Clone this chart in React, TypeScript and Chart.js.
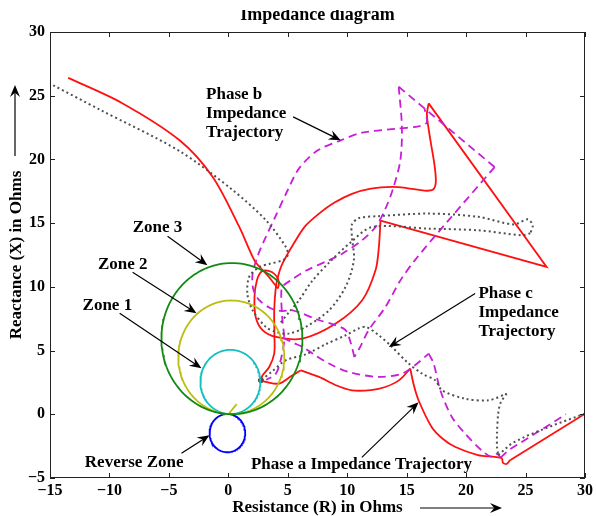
import React, { useEffect, useRef } from "react";
import { Chart, registerables } from "chart.js";
Chart.register(...registerables);

type P = [number, number];

const X_MIN = -15, X_MAX = 30, Y_MIN = -5, Y_MAX = 30;
const xTicks = [-15, -10, -5, 0, 5, 10, 15, 20, 25, 30];
const yTicks = [-5, 0, 5, 10, 15, 20, 25, 30];

// Relay zones (mho circles): centre R, centre X, radius
const zoneNames = ["Zone 3", "Zone 2", "Zone 1", "Reverse Zone"];
const zoneCentreR = [0.3, 0.25, 0.17, -0.08];
const zoneCentreX = [5.94, 4.47, 2.54, -1.48];
const zoneRadius = [5.93, 4.46, 2.52, 1.5];
const zoneColors = ["#108a10", "#bdbd10", "#10c0c0", "#0000ff"];
const zoneStub: P[] = [[0, 0], [0.7, 0.8]];

// Phase a (red, solid)
const phaseA1: P[] = [[-13.47, 26.4], [-9.0, 24.45], [-4.1, 21.5], [-1.3, 18.6], [0.92, 14.7], [2.18, 12.1], [2.74, 11.46], [3.3, 10.9], [3.9, 10.2], [4.15, 9.9], [4.25, 10.4], [3.95, 10.95], [3.4, 11.25], [2.8, 11.2], [2.4, 10.5], [2.2, 9.2], [2.3, 7.64], [2.88, 6.6], [4.0, 6.07], [6.23, 5.94], [9.0, 7.1], [11.26, 8.95], [12.38, 11.3], [12.66, 13.1], [12.8, 15.2]];
const phaseA2: P[] = [[12.8, 15.2], [26.77, 11.56], [16.85, 24.4]];
const phaseA3: P[] = [[16.85, 24.4], [16.7, 23.5], [17.0, 21.5], [17.35, 19.5], [17.45, 18.2], [17.2, 17.62], [16.5, 17.55], [15.0, 17.75], [13.77, 17.84], [12.0, 17.7], [10.4, 17.3], [8.9, 16.6], [7.63, 15.75], [6.5, 14.8], [5.67, 13.66], [4.55, 11.83], [4.2, 10.9], [4.0, 10.0], [3.86, 8.16], [3.88, 6.07], [3.86, 4.76], [3.44, 3.71], [2.88, 3.06], [2.74, 2.67]];
const phaseA4: P[] = [[2.74, 2.67], [3.16, 2.54], [4.27, 2.41], [5.3, 3.0], [6.09, 3.45]];
const phaseA5: P[] = [[6.09, 3.45], [7.63, 2.93], [9.0, 2.3], [10.4, 1.88], [12.0, 1.9], [13.2, 2.14], [14.4, 2.7], [15.3, 3.59]];
const phaseA6: P[] = [[15.3, 3.59], [15.6, 2.3], [16.0, 1.1], [17.1, -1.0], [18.0, -1.9], [19.1, -2.57], [21.0, -3.2], [22.4, -3.35], [23.0, -3.45], [23.1, -3.8], [23.4, -3.9], [23.7, -3.6]];
const phaseA7: P[] = [[23.7, -3.6], [30, 0.05]];

// Phase b (magenta, dashed)
const phaseB1: P[] = [[14.33, 25.7], [14.6, 22.55], [14.47, 19.94], [13.9, 17.84], [13.2, 16.1], [12.38, 14.7], [11.26, 13.66], [9.58, 12.6], [8.47, 12.1], [6.6, 11.3], [5.4, 10.6], [4.55, 10.0], [4.45, 9.2], [4.55, 7.4], [4.7, 5.8], [4.4, 4.24], [4.0, 3.19], [3.2, 2.7]];
const phaseB2: P[] = [[14.33, 25.7], [22.4, 19.4]];
const phaseB3: P[] = [[22.4, 19.4], [18.5, 15.2], [15.7, 12.1], [14.47, 10.5], [13.2, 8.4], [11.8, 6.6], [11.1, 5.3], [10.6, 4.5]];
const phaseB4: P[] = [[10.6, 4.5], [10.3, 5.6], [9.86, 6.6], [9.0, 7.0], [7.6, 7.4], [5.4, 8.16], [4.5, 8.1], [3.6, 8.3], [2.6, 8.95], [2.1, 9.8], [2.04, 11.04], [2.5, 12.5], [3.0, 13.6], [4.0, 15.6], [5.0, 17.6], [5.95, 19.3], [7.5, 20.7], [9.45, 21.5], [11.26, 22.1], [14.06, 22.4], [16.0, 22.6], [16.7, 22.9], [16.5, 24.0]];
const phaseB5: P[] = [[4.6, 6.0], [5.5, 5.6], [6.4, 5.2], [7.35, 4.6], [8.47, 3.98], [10.1, 3.32], [12.66, 2.93], [14.6, 3.19], [15.7, 3.85], [16.85, 4.76]];
const phaseB6: P[] = [[16.85, 4.76], [17.27, 3.98], [17.83, 1.88], [18.8, -0.21], [19.9, -1.5], [21.3, -2.83], [22.15, -3.35], [22.6, -3.1], [22.9, -3.4]];
const phaseB7: P[] = [[22.9, -3.4], [23.55, -2.83], [28.4, 0.0]];

// Phase c (grey, dotted)
const phaseC1: P[] = [[-14.73, 25.82], [-10.8, 23.9], [-4.1, 20.65], [0.36, 17.6], [3.16, 15.23], [4.84, 13.13], [5.0, 12.5], [4.6, 12.1], [3.44, 11.8], [2.6, 11.56], [1.76, 10.8], [1.6, 9.47], [2.04, 8.16], [3.16, 6.85], [4.0, 6.46], [5.1, 6.33], [6.5, 6.85], [8.47, 8.16], [9.86, 10.0], [10.56, 12.1], [10.4, 13.9], [10.4, 14.9], [11.0, 15.4], [12.66, 15.55], [16.85, 15.75], [21.0, 15.5], [24.0, 14.9], [25.2, 15.3], [25.6, 14.8], [25.4, 14.2]];
const phaseC2: P[] = [[25.4, 14.2], [24.7, 14.05], [21.0, 14.44], [16.85, 14.57], [12.1, 14.7], [10.3, 13.5], [8.47, 11.9], [7.0, 10.4], [5.95, 8.95], [5.1, 8.0], [4.4, 7.2]];
const phaseC3: P[] = [[2.8, 2.7], [3.6, 3.3], [4.84, 4.24], [6.5, 4.7], [8.2, 5.5], [9.86, 6.2], [11.0, 6.75], [11.6, 6.85], [12.66, 6.2], [13.64, 5.4], [15.17, 3.98], [16.3, 3.19], [17.4, 2.67], [17.97, 1.88], [19.9, 1.23], [21.9, 1.1], [23.4, 1.62]];
const phaseC4: P[] = [[23.4, 1.62], [22.9, 0.9], [22.7, 0.05], [22.6, -1.5], [22.6, -2.57], [22.7, -3.2]];
const phaseC5: P[] = [[22.7, -3.2], [23.8, -2.3], [25.2, -1.65], [27.5, -0.8], [30, 0.05]];
const junction: P[] = [[2.74, 2.67]];

// Annotations (text left-aligned, baseline at given point)
const labelTexts = ["Zone 3", "Zone 2", "Zone 1", "Reverse Zone", "Phase b", "Impedance", "Trajectory", "Phase c", "Impedance", "Trajectory", "Phase a Impedance Trajectory"];
const labelR = [-8.05, -10.96, -12.26, -12.07, -1.87, -1.87, -1.87, 21.04, 21.04, 21.04, 1.9];
const labelX = [14.29, 11.44, 8.16, -4.13, 24.73, 23.23, 21.74, 9.11, 7.61, 6.12, -4.32];
const arrowTailR = [-5.11, -8.05, -9.14, -3.94, 5.45, 20.76, 11.23];
const arrowTailX = [13.97, 11.15, 7.93, -3.06, 23.34, 9.47, -3.38];
const arrowHeadR = [-1.76, -2.68, -2.26, -1.59, 9.45, 13.5, 16.0];
const arrowHeadX = [11.7, 7.93, 3.61, -1.65, 21.5, 5.28, 0.94];

const TITLE = "Impedance diagram";
const X_TITLE = "Resistance (R) in Ohms";
const Y_TITLE = "Reactance (X) in Ohms";
const SERIF = "'Liberation Serif', 'Times New Roman', serif";

const toXY = (pts: P[]) => pts.map(([x, y]) => ({ x, y }));
const circle = (cr: number, cx: number, r: number) =>
  Array.from({ length: 145 }, (_, i) => {
    const t = (i / 144) * 2 * Math.PI;
    return { x: cr + r * Math.cos(t), y: cx + r * Math.sin(t) };
  });

const RED = "#ff1010";
const MAG = "#c81ed8";
const GREY = "#505050";

function ds(pts: P[], color: string, extra: any = {}) {
  return {
    data: toXY(pts),
    borderColor: color,
    backgroundColor: color,
    showLine: true,
    pointRadius: 0,
    borderWidth: 1.8,
    fill: false,
    ...extra,
  };
}

function drawArrow(ctx: CanvasRenderingContext2D, x1: number, y1: number, x2: number, y2: number, L = 12, W = 5) {
  const ang = Math.atan2(y2 - y1, x2 - x1);
  ctx.beginPath();
  ctx.moveTo(x1, y1);
  ctx.lineTo(x2 - Math.cos(ang) * L * 0.6, y2 - Math.sin(ang) * L * 0.6);
  ctx.stroke();
  ctx.save();
  ctx.translate(x2, y2);
  ctx.rotate(ang);
  ctx.beginPath();
  ctx.moveTo(0, 0);
  ctx.lineTo(-L, -W);
  ctx.lineTo(-L * 0.65, 0);
  ctx.lineTo(-L, W);
  ctx.closePath();
  ctx.fill();
  ctx.restore();
}

const decor = {
  id: "decor",
  afterDraw(chart: any) {
    const { ctx, chartArea: a, scales } = chart;
    const xs = scales.x, ys = scales.y;
    const px = (v: number) => xs.getPixelForValue(v);
    const py = (v: number) => ys.getPixelForValue(v);
    ctx.save();
    // box
    ctx.strokeStyle = "#222";
    ctx.lineWidth = 1;
    ctx.strokeRect(a.left + 0.5, a.top + 0.5, a.right - a.left - 1, a.bottom - a.top - 1);
    // inward ticks
    ctx.beginPath();
    xTicks.forEach((v) => {
      const x = Math.round(px(v)) + 0.5;
      ctx.moveTo(x, a.bottom); ctx.lineTo(x, a.bottom - 5);
      ctx.moveTo(x, a.top); ctx.lineTo(x, a.top + 5);
    });
    yTicks.forEach((v) => {
      const y = Math.round(py(v)) + 0.5;
      ctx.moveTo(a.left, y); ctx.lineTo(a.left + 5, y);
      ctx.moveTo(a.right, y); ctx.lineTo(a.right - 5, y);
    });
    ctx.stroke();

    // annotations
    ctx.fillStyle = "#000";
    ctx.strokeStyle = "#000";
    ctx.lineWidth = 1.2;
    ctx.font = `bold 17px ${SERIF}`;
    ctx.textAlign = "left";
    ctx.textBaseline = "alphabetic";
    labelTexts.forEach((t, i) => ctx.fillText(t, px(labelR[i]), py(labelX[i])));
    arrowTailR.forEach((_, i) =>
      drawArrow(ctx, px(arrowTailR[i]), py(arrowTailX[i]), px(arrowHeadR[i]), py(arrowHeadX[i]))
    );

    // axis titles
    const cx = (a.left + a.right) / 2;
    ctx.textAlign = "center";
    ctx.font = `bold 17px ${SERIF}`;
    ctx.fillText(X_TITLE, cx, a.bottom + 34);
    drawArrow(ctx, 420, a.bottom + 30, 502, a.bottom + 30, 12, 5);
    ctx.save();
    ctx.translate(21, (a.top + a.bottom) / 2);
    ctx.rotate(-Math.PI / 2);
    ctx.fillText(Y_TITLE, 0, 0);
    ctx.restore();
    drawArrow(ctx, 15, 156, 15, 85, 12, 5);

    // title (top cropped as in the reference)
    ctx.font = `bold 18px ${SERIF}`;
    ctx.fillText(TITLE, cx, 20);
    ctx.fillStyle = "#fff";
    ctx.fillRect(0, 0, chart.width, 10);
    ctx.restore();
  },
};

const tickFont = { family: SERIF, size: 16, weight: "bold" as const };
const fmt = (v: number) => String(v).replace("-", "\u2212");

export default function App() {
  const ref = useRef<HTMLCanvasElement>(null);
  useEffect(() => {
    const datasets: any[] = [];
    zoneNames.forEach((n, i) =>
      datasets.push({
        label: n,
        data: circle(zoneCentreR[i], zoneCentreX[i], zoneRadius[i]),
        borderColor: zoneColors[i],
        showLine: true,
        pointRadius: 0,
        borderWidth: 1.8,
        tension: 0,
      })
    );
    datasets.push(ds(zoneStub, zoneColors[1], { tension: 0 }));
    const smooth = { tension: 0.3 };
    const straight = { tension: 0 };
    const dashB = { borderDash: [8, 5], borderWidth: 1.8 };
    const dotC = { borderDash: [2, 3], borderWidth: 2 };
    [phaseC1, phaseC2, phaseC3, phaseC4].forEach((p) => datasets.push(ds(p, GREY, { ...smooth, ...dotC })));
    datasets.push(ds(phaseC5, GREY, { ...straight, ...dotC }));
    [phaseB1, phaseB3, phaseB4, phaseB5, phaseB6].forEach((p) => datasets.push(ds(p, MAG, { ...smooth, ...dashB })));
    [phaseB2, phaseB7].forEach((p) => datasets.push(ds(p, MAG, { ...straight, ...dashB })));
    [phaseA1, phaseA3, phaseA4, phaseA5, phaseA6].forEach((p) => datasets.push(ds(p, RED, smooth)));
    [phaseA2, phaseA7].forEach((p) => datasets.push(ds(p, RED, straight)));
    datasets.push({ data: toXY(junction), pointRadius: 2.5, backgroundColor: "#444", borderColor: "#444", showLine: false });

    const chart = new Chart(ref.current!, {
      type: "scatter",
      data: { datasets },
      options: {
        animation: false,
        responsive: false,
        devicePixelRatio: 1,
        layout: { padding: { left: 0, right: 9, top: 32, bottom: 0 } },
        plugins: { legend: { display: false }, tooltip: { enabled: false }, title: { display: false } },
        scales: {
          x: {
            type: "linear",
            min: X_MIN,
            max: X_MAX,
            afterBuildTicks: (s: any) => { s.ticks = xTicks.map((v) => ({ value: v })); },
            afterFit: (s: any) => { s.height = 38; },
            grid: { display: false, drawTicks: false },
            border: { display: false },
            ticks: { padding: 3, font: tickFont, color: "#000", autoSkip: false, maxRotation: 0, callback: (v: any) => fmt(v) },
          },
          y: {
            type: "linear",
            min: Y_MIN,
            max: Y_MAX,
            afterBuildTicks: (s: any) => { s.ticks = yTicks.map((v) => ({ value: v })); },
            afterFit: (s: any) => { s.width = 50; },
            grid: { display: false, drawTicks: false },
            border: { display: false },
            ticks: { padding: 5, font: tickFont, color: "#000", autoSkip: false, callback: (v: any) => fmt(v) },
          },
        },
      },
      plugins: [decor],
    } as any);
    return () => chart.destroy();
  }, []);
  return (
    <div style={{ position: "fixed", left: 0, top: 0, width: 596, height: 516, background: "#fff" }}>
      <canvas ref={ref} width={596} height={516} style={{ display: "block", width: 596, height: 516 }} />
    </div>
  );
}
